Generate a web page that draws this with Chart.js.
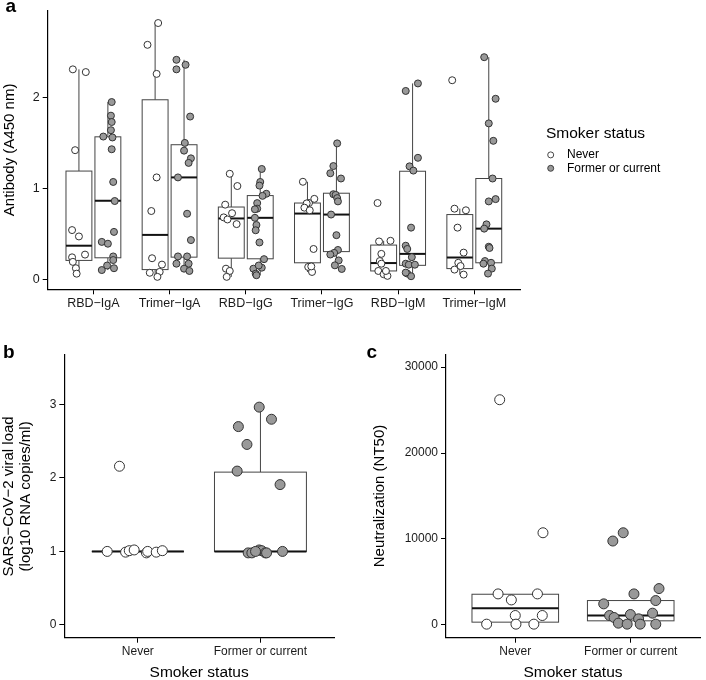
<!DOCTYPE html>
<html>
<head>
<meta charset="utf-8">
<script src="https://cdn.jsdelivr.net/npm/chart.js@4.4.1/dist/chart.umd.min.js"></script>
<style>
  body { margin: 0; background: #fff; }
  #wrap { position: relative; width: 706px; height: 680px; }
  canvas { position: absolute; }
</style>
</head>
<body>
<div id="wrap">
  <canvas id="chartA" width="706" height="318" style="left:0;top:0"></canvas>
  <canvas id="chartB" width="340" height="362" style="left:0;top:318px"></canvas>
  <canvas id="chartC" width="366" height="362" style="left:340px;top:318px"></canvas>
</div>
<script>
const categories = ['RBD−IgA', 'Trimer−IgA', 'RBD−IgG', 'Trimer−IgG', 'RBD−IgM', 'Trimer−IgM'];
const smokerGroups = ['Never', 'Former or current'];
const antibodyTicks = [0, 1, 2];
const viralTicks = [0, 1, 2, 3];
const neutTicks = [0, 10000, 20000, 30000];

// panel a - antibody values per category, with the jitter offsets (x units)
const abNever = [
  [2.31, 2.28, 1.42, 0.54, 0.47, 0.27, 0.24, 0.19, 0.12, 0.06],
  [2.82, 2.58, 2.26, 1.12, 0.75, 0.23, 0.16, 0.07, 0.08, 0.025],
  [1.16, 1.025, 0.82, 0.726, 0.68, 0.657, 0.606, 0.115, 0.09, 0.025],
  [1.072, 0.838, 0.884, 0.834, 0.787, 0.758, 0.332, 0.134, 0.079, 0.14],
  [0.838, 0.415, 0.422, 0.278, 0.199, 0.17, 0.09, 0.054, 0.036, 0.09],
  [2.19, 0.776, 0.758, 0.567, 0.292, 0.18, 0.105, 0.05, 0.144]
];
const abNeverJit = [
  [-0.08, 0.09, -0.05, -0.09, 0.0, 0.08, -0.09, -0.08, -0.04, -0.03],
  [0.04, -0.10, 0.02, 0.02, -0.05, -0.04, 0.09, -0.07, 0.06, 0.03],
  [-0.02, 0.08, -0.08, 0.01, -0.10, -0.05, 0.07, -0.07, -0.02, -0.06],
  [-0.06, 0.02, 0.09, -0.01, -0.04, 0.03, 0.08, 0.01, 0.06, 0.05],
  [-0.08, -0.06, 0.09, -0.03, -0.05, -0.03, -0.07, 0.0, 0.05, 0.03],
  [-0.10, -0.07, 0.08, -0.03, 0.05, -0.02, -0.07, 0.05, 0.01]
];
const abFormer = [
  [1.95, 1.80, 1.73, 1.64, 1.57, 1.56, 1.43, 1.07, 0.86, 0.52, 0.41, 0.39, 0.25, 0.21, 0.15, 0.10, 0.12],
  [2.415, 2.31, 2.36, 1.79, 1.50, 1.415, 1.33, 1.28, 1.12, 0.72, 0.43, 0.25, 0.25, 0.17, 0.17, 0.115, 0.09],
  [1.213, 1.07, 1.03, 0.94, 0.917, 0.837, 0.776, 0.769, 0.675, 0.596, 0.538, 0.404, 0.22, 0.126, 0.115, 0.06, 0.043, 0.15],
  [1.495, 1.245, 1.166, 1.108, 0.935, 0.928, 0.892, 0.856, 0.711, 0.484, 0.321, 0.289, 0.271, 0.206, 0.152, 0.112],
  [2.155, 2.072, 1.336, 1.242, 1.195, 0.567, 0.368, 0.332, 0.242, 0.17, 0.159, 0.159, 0.061, 0.032, 0.072],
  [2.444, 1.986, 1.715, 1.523, 1.108, 0.881, 0.856, 0.603, 0.556, 0.357, 0.343, 0.199, 0.18, 0.17, 0.116, 0.061]
];
const abFormerJit = [
  [0.05, 0.04, 0.05, 0.04, -0.06, 0.06, 0.05, 0.07, 0.09, 0.08, -0.08, 0.0, 0.07, 0.07, -0.01, -0.08, 0.08],
  [-0.10, -0.10, 0.02, 0.08, 0.01, 0.0, 0.09, 0.06, -0.08, 0.04, 0.09, -0.08, 0.04, -0.10, 0.06, 0.0, 0.07],
  [0.02, 0.0, -0.01, 0.08, 0.03, -0.04, -0.04, -0.07, -0.07, -0.05, -0.06, -0.01, 0.05, 0.02, -0.09, -0.06, -0.05, -0.02],
  [0.01, -0.04, -0.08, 0.06, -0.04, -0.01, 0.01, 0.02, -0.07, 0.0, 0.02, -0.03, -0.08, 0.03, -0.02, 0.07],
  [0.07, -0.09, 0.07, -0.04, 0.01, -0.02, -0.09, -0.07, -0.01, -0.09, -0.05, 0.03, -0.07, -0.02, -0.09],
  [-0.06, 0.09, 0.0, 0.06, 0.05, 0.09, 0.0, -0.03, -0.06, 0.0, 0.01, -0.05, 0.03, -0.07, 0.04, -0.01]
];
// box stats: [low whisker, q1, median, q3, high whisker]
const abNeverBox = [
  [0.06, 0.206, 0.368, 1.19, 2.31],
  [0.025, 0.105, 0.487, 1.975, 2.82],
  [0.025, 0.231, 0.668, 0.794, 1.16],
  [0.079, 0.18, 0.722, 0.838, 1.072],
  [0.036, 0.09, 0.177, 0.375, 0.422],
  [0.05, 0.116, 0.238, 0.711, 0.776]
];
const abFormerBox = [
  [0.10, 0.235, 0.863, 1.567, 1.95],
  [0.09, 0.242, 1.12, 1.48, 2.415],
  [0.043, 0.224, 0.675, 0.92, 1.213],
  [0.112, 0.303, 0.711, 0.946, 1.495],
  [0.032, 0.152, 0.278, 1.188, 2.155],
  [0.061, 0.18, 0.556, 1.108, 2.444]
];

// panel b - viral load
const vlNever = [2.16, 1.0, 0.99, 1.01, 1.02, 0.98, 1.0, 0.99, 1.01];
const vlNeverJit = [-0.15, -0.25, -0.10, -0.07, -0.03, 0.07, 0.08, 0.15, 0.20];
const vlFormer = [2.965, 2.80, 2.70, 2.457, 2.094, 1.91, 1.0, 0.98, 0.98, 1.02, 1.01, 0.98, 0.98, 1.0];
const vlFormerJit = [-0.01, 0.09, -0.18, -0.11, -0.19, 0.16, 0.18, -0.10, -0.07, -0.01, 0.01, 0.04, 0.05, -0.04];
const vlNeverBox = [1.0, 1.0, 1.0, 1.0, 1.0];
const vlFormerBox = [1.0, 1.0, 1.0, 2.08, 2.965];

// panel c - neutralization
const ntNever = [26210, 10720, 3600, 3600, 2900, 1084, 1084, 77, 77, 77];
const ntNeverJit = [-0.135, 0.24, -0.149, 0.192, -0.034, 0, 0.234, -0.248, 0.006, 0.161];
const ntFormer = [10720, 9756, 4220, 3600, 2826, 2440, 1355, 1200, 1084, 850, 697, 194, 77, 77, 77];
const ntFormerJit = [-0.065, -0.155, 0.245, 0.028, 0.217, -0.234, 0.189, -0.003, -0.183, -0.144, 0.068, -0.107, -0.031, 0.082, 0.217];
const ntNeverBox = [77, 310, 1935, 3560, 3560];
const ntFormerBox = [77, 465, 1084, 2826, 2826];

const FONT = "'Liberation Sans', Arial, sans-serif";
Chart.defaults.font.family = FONT;
Chart.defaults.color = '#000';

const NEVER_FILL = '#ffffff';
const FORMER_FILL = '#999999';

function jitter(values, offsets, center) {
  return values.map((v, i) => ({x: center + offsets[i], y: v}));
}

function boxPlugin(boxes) {
  return {
    id: 'boxes',
    beforeDatasetsDraw(chart) {
      const {ctx, scales: {x, y}} = chart;
      ctx.save();
      boxes.forEach(b => {
        const [lo, q1, med, q3, hi] = b.stats;
        const xc = x.getPixelForValue(b.x);
        const x0 = x.getPixelForValue(b.x - b.w / 2);
        const x1 = x.getPixelForValue(b.x + b.w / 2);
        const top = y.getPixelForValue(q3), bot = y.getPixelForValue(q1);
        ctx.strokeStyle = '#444';
        ctx.lineWidth = 1;
        ctx.beginPath();
        ctx.moveTo(xc, y.getPixelForValue(hi));
        ctx.lineTo(xc, top);
        ctx.moveTo(xc, bot);
        ctx.lineTo(xc, y.getPixelForValue(lo));
        ctx.stroke();
        ctx.fillStyle = '#fff';
        ctx.fillRect(x0, top, x1 - x0, bot - top);
        ctx.strokeRect(x0, top, x1 - x0, bot - top);
        ctx.strokeStyle = '#111';
        ctx.lineWidth = 2;
        ctx.beginPath();
        ctx.moveTo(x0, y.getPixelForValue(med));
        ctx.lineTo(x1, y.getPixelForValue(med));
        ctx.stroke();
      });
      ctx.restore();
    }
  };
}

function letterPlugin(letter, lx, ly) {
  return {
    id: 'letter',
    afterDraw(chart) {
      const ctx = chart.ctx;
      ctx.save();
      ctx.font = 'bold 19px ' + FONT;
      ctx.fillStyle = '#000';
      ctx.textBaseline = 'alphabetic';
      ctx.fillText(letter, lx, ly);
      ctx.restore();
    }
  };
}

// legend for panel a, placed right of the plot
const legendPlugin = {
  id: 'smokerLegend',
  afterDraw(chart) {
    const {ctx, chartArea} = chart;
    const lx = chartArea.right + 26;
    const cy = (chartArea.top + chartArea.bottom) / 2;
    ctx.save();
    ctx.textBaseline = 'middle';
    ctx.fillStyle = '#000';
    ctx.font = '15.5px ' + FONT;
    ctx.fillText('Smoker status', lx, cy - 16.6);
    ctx.font = '12px ' + FONT;
    chart.data.datasets.forEach((ds, i) => {
      const yy = cy + 5 + i * 13.4;
      ctx.beginPath();
      ctx.arc(lx + 4.7, yy, 3, 0, Math.PI * 2);
      ctx.fillStyle = ds.backgroundColor;
      ctx.fill();
      ctx.lineWidth = 0.9;
      ctx.strokeStyle = '#333';
      ctx.stroke();
      ctx.fillStyle = '#000';
      ctx.fillText(ds.label, lx + 21, yy);
    });
    ctx.restore();
  }
};

function xAxis(labels, max, height, fontSize, title) {
  return {
    type: 'linear',
    min: 0.4,
    max: max,
    afterBuildTicks: s => { s.ticks = labels.map((l, i) => ({value: i + 1})); },
    afterFit: s => { s.height = height; },
    ticks: {
      callback: v => labels[Math.round(v) - 1],
      color: '#1a1a1a', font: {size: fontSize}, padding: 2, maxRotation: 0, autoSkip: false
    },
    grid: {drawOnChartArea: false, tickLength: 5, color: '#000'},
    border: {color: '#000', width: 1.2},
    title: title
      ? {display: true, text: title, color: '#000', font: {size: 15.5, lineHeight: 1}, padding: {top: 0, bottom: 0}}
      : {display: false}
  };
}

function yAxis(min, max, tickVals, width, fontSize, title, titleSize, titlePad) {
  return {
    min: min,
    max: max,
    afterBuildTicks: s => { s.ticks = tickVals.map(v => ({value: v})); },
    afterFit: s => { s.width = width; },
    ticks: {callback: v => String(v), color: '#1a1a1a', font: {size: fontSize}, padding: 3},
    grid: {drawOnChartArea: false, tickLength: 5, color: '#000'},
    border: {color: '#000', width: 1.2},
    title: {display: true, text: title, color: '#000', font: {size: titleSize, lineHeight: 1.15}, padding: {top: titlePad, bottom: 0}}
  };
}

function pointSet(label, data, fill, radius) {
  return {
    label: label, data: data, backgroundColor: fill, borderColor: '#333',
    borderWidth: 1, pointRadius: radius, pointHoverRadius: radius, clip: false
  };
}

const common = {
  responsive: false,
  animation: false,
  events: [],
  plugins: {legend: {display: false}, tooltip: {enabled: false}}
};

// panel a
const dodge = 0.19;
const boxA = categories.flatMap((c, i) => [
  {x: i + 1 - dodge, w: 0.34, stats: abNeverBox[i]},
  {x: i + 1 + dodge, w: 0.34, stats: abFormerBox[i]}
]);
new Chart(document.getElementById('chartA'), {
  type: 'scatter',
  data: {
    datasets: [
      pointSet(smokerGroups[0], categories.flatMap((c, i) => jitter(abNever[i], abNeverJit[i], i + 1 - dodge)), NEVER_FILL, 3.5),
      pointSet(smokerGroups[1], categories.flatMap((c, i) => jitter(abFormer[i], abFormerJit[i], i + 1 + dodge)), FORMER_FILL, 3.5)
    ]
  },
  options: {
    ...common,
    layout: {padding: {top: 6, right: 186, bottom: 0, left: 0}},
    scales: {
      x: xAxis(categories, 6.6, 28.7, 12.5, null),
      y: yAxis(-0.112, 2.958, antibodyTicks, 47.7, 12.5, 'Antibody (A450 nm)', 15, 1)
    }
  },
  plugins: [boxPlugin(boxA), legendPlugin, letterPlugin('a', 5.5, 12)]
});

// panel b
new Chart(document.getElementById('chartB'), {
  type: 'scatter',
  data: {
    datasets: [
      pointSet(smokerGroups[0], jitter(vlNever, vlNeverJit, 1), NEVER_FILL, 5),
      pointSet(smokerGroups[1], jitter(vlFormer, vlFormerJit, 2), FORMER_FILL, 5)
    ]
  },
  options: {
    ...common,
    layout: {padding: {top: 37, right: 4.3, bottom: 0, left: 0}},
    scales: {
      x: xAxis(smokerGroups, 2.6, 42.3, 12, 'Smoker status'),
      y: yAxis(-0.175, 3.675, viralTicks, 64.3, 12, ['SARS−CoV−2 viral load', '(log10 RNA copies/ml)'], 15, 0)
    }
  },
  plugins: [boxPlugin([
    {x: 1, w: 0.75, stats: vlNeverBox},
    {x: 2, w: 0.75, stats: vlFormerBox}
  ]), letterPlugin('b', 3, 40)]
});

// panel c
new Chart(document.getElementById('chartC'), {
  type: 'scatter',
  data: {
    datasets: [
      pointSet(smokerGroups[0], jitter(ntNever, ntNeverJit, 1), NEVER_FILL, 5),
      pointSet(smokerGroups[1], jitter(ntFormer, ntFormerJit, 2), FORMER_FILL, 5)
    ]
  },
  options: {
    ...common,
    layout: {padding: {top: 36.3, right: 0, bottom: 0, left: 0}},
    scales: {
      x: xAxis(smokerGroups, 2.6, 42.3, 12, 'Smoker status'),
      y: yAxis(-1500, 31500, neutTicks, 106, 12, 'Neutralization (NT50)', 15, 31)
    }
  },
  plugins: [boxPlugin([
    {x: 1, w: 0.75, stats: ntNeverBox},
    {x: 2, w: 0.75, stats: ntFormerBox}
  ]), letterPlugin('c', 26.5, 40)]
});
</script>
</body>
</html>
